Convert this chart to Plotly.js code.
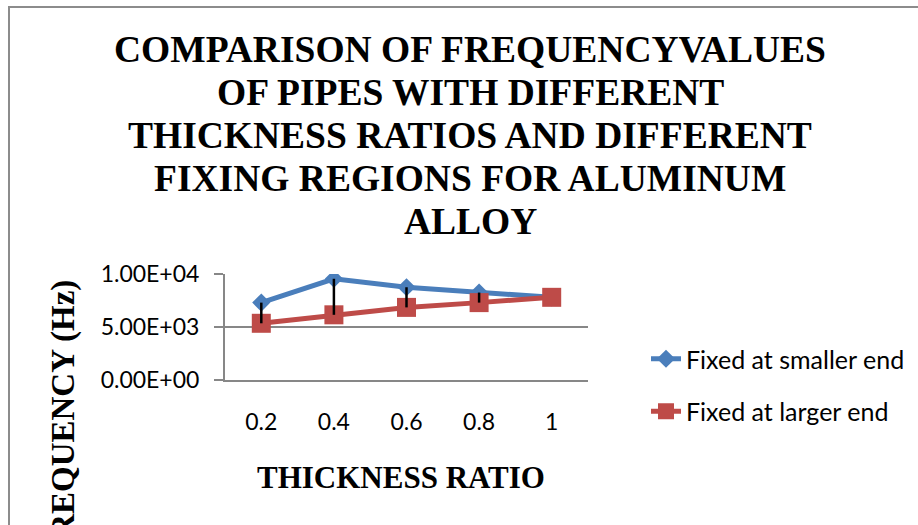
<!DOCTYPE html>
<html>
<head>
<meta charset="utf-8">
<script src="https://cdn.plot.ly/plotly-3.0.1.min.js"></script>
<style>
  html, body { margin: 0; padding: 0; width: 918px; height: 525px; overflow: hidden; background: #fff; }
  #chart { width: 918px; height: 525px; position: absolute; left: 0; top: 0; }
  #frame { position: absolute; left: 8px; top: 6px; width: 1200px; height: 1200px;
           border-left: 2px solid #8c8c8c; border-top: 2px solid #8c8c8c; pointer-events: none; }
</style>
</head>
<body>
<div id="chart"></div>
<div id="frame"></div>
<script>
// ---- data ----
const categories = ['0.2', '0.4', '0.6', '0.8', '1'];
const fixedSmaller = [7300, 9550, 8750, 8250, 7800];
const fixedLarger  = [5350, 6150, 6850, 7300, 7800];
const yTickVals = [0, 5000, 10000];
const yTickText = ['0.00E+00', '5.00E+03', '1.00E+04'];
const seriesNames = ['Fixed at smaller end', 'Fixed at larger end'];
const titleLines = ['COMPARISON OF FREQUENCYVALUES', 'OF PIPES WITH DIFFERENT',
                    'THICKNESS RATIOS AND DIFFERENT', 'FIXING REGIONS FOR ALUMINUM', 'ALLOY'];
const xTitle = 'THICKNESS RATIO';
const yTitle = 'FREQUENCY (Hz)';

// ---- geometry helpers (pixel -> paper) ----
const W = 918, H = 525;
const M = { l: 225, r: 330, t: 274, b: 145, autoexpand: false };
const pw = W - M.l - M.r, ph = H - M.t - M.b;
const px = x => (x - M.l) / pw;
const py = y => (H - M.b - y) / ph;

const serif = 'Liberation Serif, Times New Roman, serif';
const sans = 'Lato, Carlito, Calibri, sans-serif';

// high-low connector lines built from the two series
const hlX = [], hlY = [];
categories.forEach((c, i) => { hlX.push(c, c, null); hlY.push(fixedSmaller[i], fixedLarger[i], null); });

const traces = [
  { x: categories, y: fixedSmaller, name: seriesNames[0], type: 'scatter', mode: 'lines+markers',
    legendgroup: 'a',
    line: { color: '#4A7EBB', width: 5 }, marker: { symbol: 'diamond', size: 14, color: '#4A7EBB' } },
  { x: categories, y: fixedLarger, name: seriesNames[1], type: 'scatter', mode: 'lines+markers',
    legendgroup: 'b',
    line: { color: '#BE4B48', width: 5 }, marker: { symbol: 'square', size: 19, color: '#BE4B48' } },
  { x: hlX, y: hlY, type: 'scatter', mode: 'lines', showlegend: false, hoverinfo: 'skip',
    line: { color: '#000000', width: 2.5 } }
];

const titleCenters = [49, 92, 135, 178, 221];
const annotations = titleLines.map((t, i) => ({
  text: '<b>' + t + '</b>', xref: 'paper', yref: 'paper', x: px(470), y: py(titleCenters[i]),
  xanchor: 'center', yanchor: 'middle', showarrow: false,
  font: { family: serif, size: 37.5, color: '#000' }
}));
annotations.push({
  text: '<b>' + xTitle + '</b>', xref: 'paper', yref: 'paper', x: px(401), y: py(477),
  xanchor: 'center', yanchor: 'middle', showarrow: false,
  font: { family: serif, size: 31, color: '#000' }
});
annotations.push({
  text: '<b>' + yTitle + '</b>', xref: 'paper', yref: 'paper', x: px(63), y: py(419),
  xanchor: 'center', yanchor: 'middle', showarrow: false, textangle: -90,
  font: { family: serif, size: 33, color: '#000' }
});

const layout = {
  width: W, height: H, margin: M,
  paper_bgcolor: '#fff', plot_bgcolor: '#fff',
  showlegend: true,
  legend: { x: px(646), xanchor: 'left', y: py(385), yanchor: 'middle',
            traceorder: 'grouped', tracegroupgap: 17,
            font: { family: sans, size: 25, color: '#000' }, bgcolor: 'rgba(0,0,0,0)' },
  xaxis: { type: 'category', range: [-0.5, 4.5], showgrid: false, zeroline: false,
           showline: true, linecolor: '#878787', linewidth: 2, ticks: '',
           ticklabelstandoff: 20, tickfont: { family: sans, size: 23, color: '#000' }, fixedrange: true },
  yaxis: { range: [0, 10000], tickvals: yTickVals, ticktext: yTickText,
           showgrid: true, gridcolor: '#878787', gridwidth: 2, zeroline: false,
           showline: true, linecolor: '#878787', linewidth: 2,
           ticks: 'outside', ticklen: 9, tickwidth: 2, tickcolor: '#878787',
           ticklabelstandoff: 10, tickfont: { family: sans, size: 23, color: '#000' }, fixedrange: true },
  annotations: annotations
};

Plotly.newPlot('chart', traces, layout, { displayModeBar: false, staticPlot: true });
</script>
</body>
</html>
